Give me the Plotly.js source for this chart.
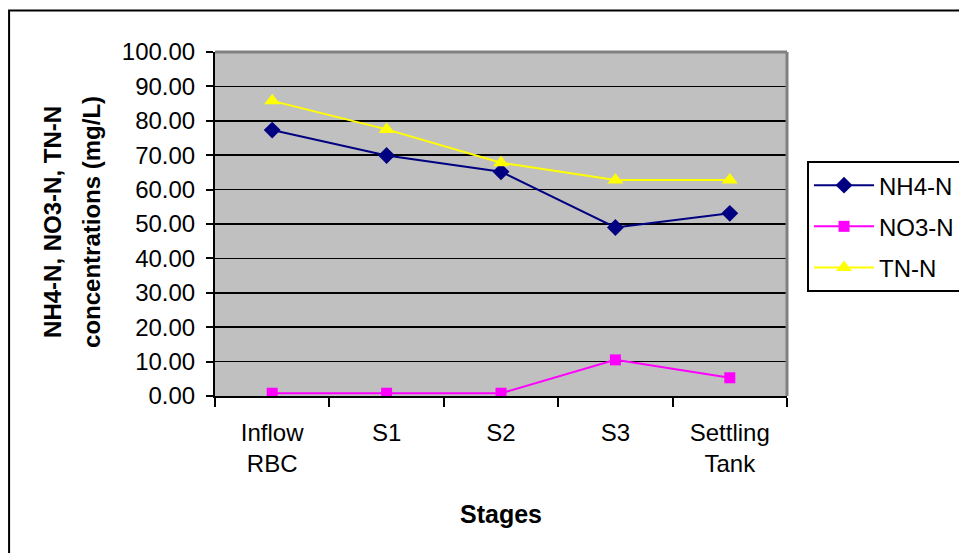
<!DOCTYPE html>
<html>
<head>
<meta charset="utf-8">
<script src="https://cdn.plot.ly/plotly-3.0.1.min.js"></script>
<style>html,body{margin:0;padding:0;background:#fff;}#chart{width:959px;height:553px;}</style>
</head>
<body>
<div id="chart"></div>
<script>
const stages = ['Inflow<br>RBC', 'S1', 'S2', 'S3', 'Settling<br>Tank'];
const nh4 = [77.3, 69.9, 65.2, 49.0, 53.1];
const no3 = [0.8, 0.8, 0.8, 10.5, 5.3];
const tn = [85.8, 77.5, 67.8, 62.8, 62.8];
const yTicks = [0, 10, 20, 30, 40, 50, 60, 70, 80, 90, 100];

const FONT = '"Liberation Sans", Arial, sans-serif';

const traces = [
  {x: stages, y: nh4, name: 'NH4-N', type: 'scatter', mode: 'lines+markers', legendgroup: 'a',
   line: {color: '#000080', width: 2}, marker: {symbol: 'diamond', size: 13, color: '#000080'}},
  {x: stages, y: no3, name: 'NO3-N', type: 'scatter', mode: 'lines+markers', legendgroup: 'b',
   line: {color: '#FF00FF', width: 2}, marker: {symbol: 'square', size: 11, color: '#FF00FF'}},
  {x: stages, y: tn, name: 'TN-N', type: 'scatter', mode: 'lines+markers', legendgroup: 'c',
   line: {color: '#FFFF00', width: 2}, marker: {symbol: 'triangle-up', size: 14, color: '#FFFF00'}}
];

const layout = {
  width: 959, height: 553,
  margin: {l: 215, r: 172, t: 52, b: 157, autoexpand: false},
  paper_bgcolor: '#ffffff',
  plot_bgcolor: '#C0C0C0',
  font: {family: FONT, size: 24, color: '#000'},
  showlegend: true,
  legend: {
    x: 1.035, y: 0.683, xanchor: 'left', yanchor: 'top',
    bordercolor: '#000', borderwidth: 2, bgcolor: '#fff',
    font: {family: FONT, size: 24, color: '#000'},
    tracegroupgap: 7, itemwidth: 60
  },
  xaxis: {
    type: 'category', range: [-0.5, 4.5], tickson: 'boundaries', ticks: 'outside', ticklen: 9, tickwidth: 2, tickcolor: '#000',
    showline: true, linecolor: '#000', linewidth: 2, showgrid: false, zeroline: false, ticklabelstandoff: 14,
    tickfont: {family: FONT, size: 24, color: '#000'}, fixedrange: true
  },
  yaxis: {
    range: [0, 100], tickvals: yTicks, tickformat: '.2f', ticks: 'outside', ticklen: 7, tickwidth: 2, tickcolor: '#000',
    showline: true, linecolor: '#000', linewidth: 2, showgrid: true, gridcolor: '#000', gridwidth: 1.5, ticklabelstandoff: 6,
    zeroline: false, tickfont: {family: FONT, size: 24, color: '#000'}, fixedrange: true
  },
  shapes: [
    {type: 'line', xref: 'paper', yref: 'paper', x0: 0, x1: 1, y0: 1, y1: 1, line: {color: '#808080', width: 3}, layer: 'above'},
    {type: 'line', xref: 'paper', yref: 'paper', x0: 1, x1: 1, y0: 0, y1: 1, line: {color: '#808080', width: 3}, layer: 'above'},
    {type: 'rect', xref: 'paper', yref: 'paper', x0: -0.360, x1: 1.35, y0: -0.50, y1: 1.1206, line: {color: '#000', width: 2}, fillcolor: 'rgba(0,0,0,0)', layer: 'above'}
  ],
  annotations: [
    {text: '<b>NH4-N, NO3-N, TN-N</b>', xref: 'paper', yref: 'paper', x: (53 - 215) / 572, y: 0.506,
     xanchor: 'center', yanchor: 'middle', textangle: -90, showarrow: false, font: {family: FONT, size: 24, color: '#000'}},
    {text: '<b>concentrations (mg/L)</b>', xref: 'paper', yref: 'paper', x: (92 - 215) / 572, y: 0.506,
     xanchor: 'center', yanchor: 'middle', textangle: -90, showarrow: false, font: {family: FONT, size: 24, color: '#000'}},
    {text: '<b>Stages</b>', xref: 'paper', yref: 'paper', x: 0.5, y: (396 - 514) / 344,
     xanchor: 'center', yanchor: 'middle', showarrow: false, font: {family: FONT, size: 25, color: '#000'}}
  ]
};

Plotly.newPlot('chart', traces, layout, {displayModeBar: false, staticPlot: true});
</script>
</body>
</html>
